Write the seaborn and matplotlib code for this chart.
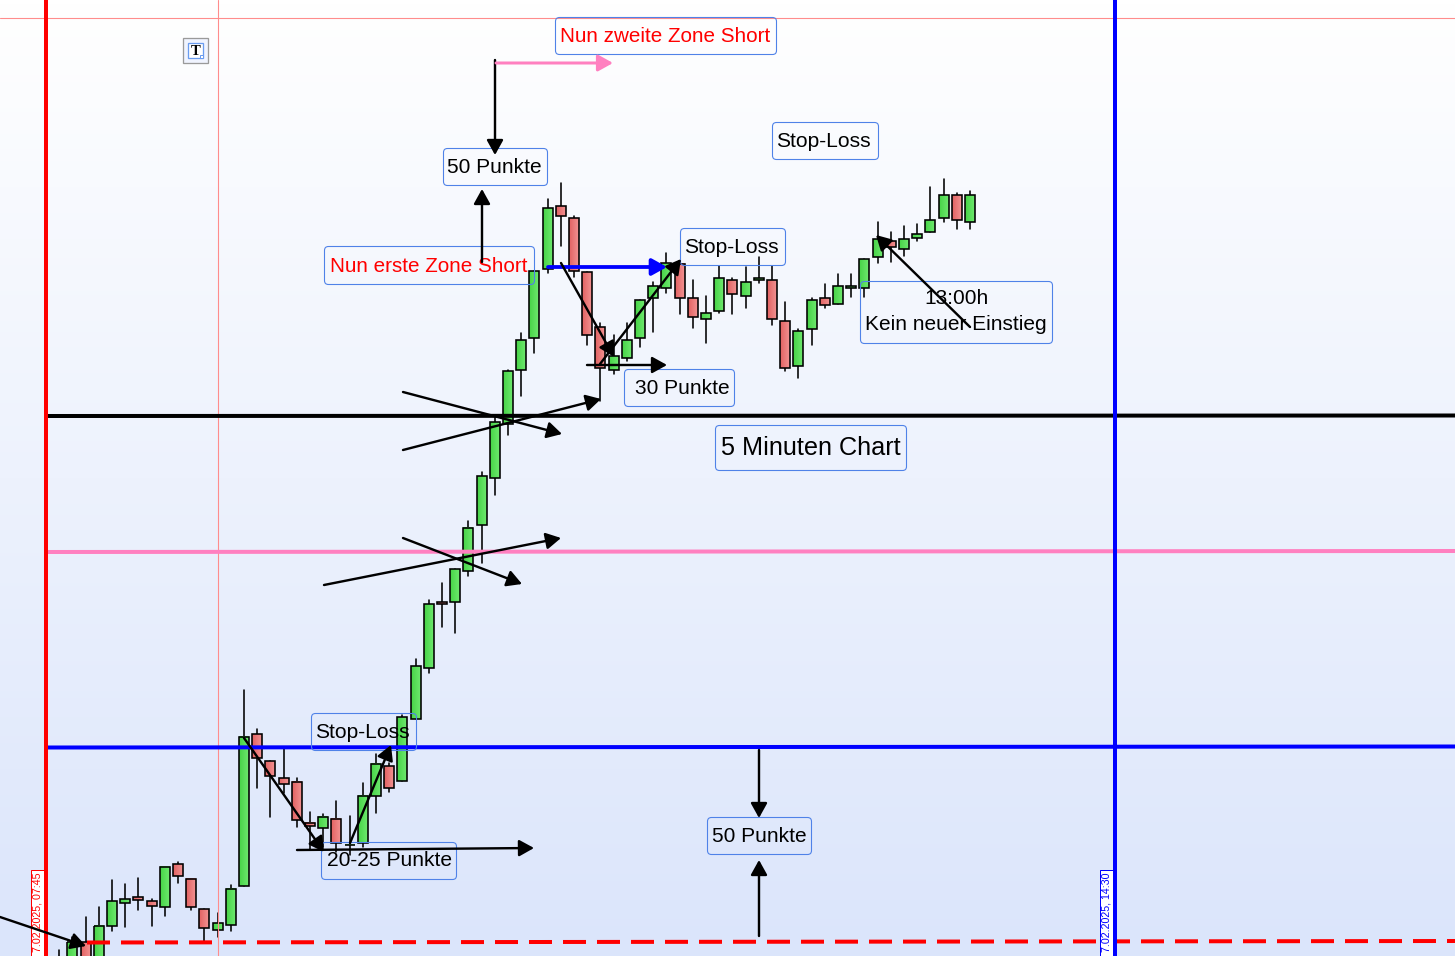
import numpy as np
import pandas as pd
import matplotlib
matplotlib.use("Agg")
import matplotlib.pyplot as plt
from matplotlib.colors import LinearSegmentedColormap
from matplotlib.patches import FancyBboxPatch, Rectangle
import seaborn as sns

# --- candle values (chart height units, larger = lower on screen)
body_top = [958, 942.3, 942.3, 925.7, 901.3, 899.3, 897.3, 901.3, 866.7, 864.3, 878.7, 909.3, 923.3, 888.7,
            736.7, 734.3, 760.7, 777.7, 781.7, 822.7, 816.7, 818.7, 844.6, 795.7, 763.7, 765.7, 717.3, 666.3,
            604.3, 602.3, 569.3, 527.7, 476.3, 422.3, 371.3, 340.3, 271.3, 208.3, 206.3, 218.3, 272.3, 327.3,
            356.3, 340.3, 300.3, 286.3, 263.3, 264, 298.3, 313.3, 278.3, 280.3, 282.3, 278.3, 280.3, 321.3,
            331.3, 300.3, 298.3, 286.3, 286.3, 259.3, 239.3, 241.3, 239.3, 234.3, 220.3, 195.3, 195.3, 195.3]
body_bot = [975, 970, 970, 970, 926, 903.3, 899.7, 905.7, 907.3, 876.3, 907.3, 928.3, 930.3, 925.3,
            886.3, 758.3, 775.7, 783.7, 820.3, 826.3, 828.3, 843.3, 845.4, 843.3, 796.3, 787.7, 781.3, 719.3,
            668.3, 604.3, 602.3, 571.3, 525.3, 478.3, 424, 370.3, 338.3, 269.3, 216.3, 271.3, 335.3, 368.3,
            370.3, 358.3, 338.3, 298.3, 288.3, 298.3, 317.3, 319.3, 311.3, 294.3, 296.3, 280.3, 319.3, 368.3,
            366.3, 329.3, 305.3, 304.3, 288.3, 288.3, 257.3, 247.3, 249.3, 238.3, 232.3, 218.3, 220.3, 222.3]
wick_top = [950, 936.7, 917.3, 907.3, 880.3, 884.3, 878.3, 899.3, 866.7, 862.3, 878.7, 909.3, 913.3, 884.7,
            690, 729.3, 760.7, 748.3, 777.7, 812.3, 814.3, 800.7, 816, 783.3, 754, 763, 715, 659,
            600, 583.3, 569.3, 521.3, 472.3, 417, 370, 333.3, 271.3, 199.3, 183.3, 216.3, 272.3, 323.3,
            335, 323.3, 300.3, 282.3, 253.3, 264, 280, 296, 266, 278.3, 267.3, 257.3, 266, 302.3,
            329.3, 298.3, 284, 274, 274, 259.3, 222.3, 232.3, 226, 224.3, 187.3, 179.3, 193.3, 191.3]
wick_bot = [975, 970, 970, 970, 930.7, 926.7, 909.7, 925.7, 915.7, 882.7, 909.7, 940.7, 936.7, 930.7,
            886.3, 787.7, 816.7, 793, 826.7, 850, 846.7, 851.7, 855, 846.7, 812.7, 791.7, 781.3, 719.3,
            672.7, 626.7, 633.3, 575.7, 562.7, 494.7, 434.7, 396, 352.7, 272.7, 246, 276.7, 345, 401,
            374.3, 361, 346.7, 331.7, 292.7, 314, 327.7, 342.7, 313.3, 314, 307.7, 282.7, 325.3, 370.7,
            377.7, 344.7, 307.7, 304.3, 296.7, 296.7, 263.3, 261.7, 255.7, 241.3, 232.3, 222.3, 228.7, 228.7]
bar_kind = ["G", "G", "R", "G", "G", "G", "R", "R", "G", "R", "R", "R", "G", "G",
            "G", "R", "R", "R", "R", "R", "G", "R", "G", "G", "G", "R", "G", "G",
            "G", "R", "G", "G", "G", "G", "G", "G", "G", "G", "R", "R", "R", "R",
            "G", "G", "G", "G", "G", "R", "R", "G", "G", "R", "G", "G", "R", "R",
            "G", "G", "R", "G", "G", "G", "G", "R", "G", "G", "G", "G", "R", "G"]
bar_index = np.arange(len(body_top))

# --- horizontal levels (name, x from/to, y from/to in picture units)
level_names = ["black", "pink", "blue", "stop"]
level_x0 = [46, 46, 46, 87]
level_x1 = [1455, 1455, 1455, 1455]
level_y0 = [416, 552, 747.5, 942.5]
level_y1 = [415.5, 551, 746.5, 941]
level_colors = ["#000000", "#ff80c0", "#0000ff", "#ff0000"]

# --- annotation boxes
box_labels = ["Nun zweite Zone Short", "50 Punkte", "Stop-Loss", "Nun erste Zone Short", "Stop-Loss",
              "13:00h\nKein neuer Einstieg", "30 Punkte", "5 Minuten Chart", "Stop-Loss", "20-25 Punkte", "50 Punkte"]
box_x0 = [555, 443, 772, 324, 680, 860, 624, 715, 311, 321, 707]
box_x1 = [776, 547, 878, 534, 785, 1052, 734, 906, 416, 456, 811]
box_y0 = [17, 148, 122, 246, 228, 281, 369, 425, 713, 842, 817]
box_y1 = [54, 185, 159, 284, 265, 343, 406, 470, 750, 879, 854]
label_dx = [0, -1, -1.5, 0, -1.5, 0, 3, 0, -1.5, 1, 0]
label_dy = [0.5, 0, 0, 1, 0, -1, 0, 0, 0, 0, 0]
box_colors = ["#ff0000", "#000000", "#000000", "#ff0000", "#000000", "#000000", "#000000", "#000000", "#000000",
              "#000000", "#000000"]
box_sizes = [14.9, 15.0, 15.1, 14.9, 15.1, 15.0, 15.0, 18.2, 15.1, 15.1, 15.0]

# --- arrows
arrow_from = [(0, 917), (244, 738), (297, 850), (350, 843), (759, 750), (759, 936), (324, 585), (403, 538),
              (403, 450), (403, 392), (495, 60), (482, 262), (496, 63), (548, 267), (561, 263), (600, 364),
              (587, 365), (970, 327)]
arrow_to = [(86, 946), (324, 852), (534, 848), (391, 745), (759, 818), (759, 860), (561, 538), (522, 584),
            (601, 399), (562, 434), (495, 155), (482, 189), (613, 63), (667, 267), (614, 357), (681, 259),
            (667, 365), (876, 235)]
arrow_colors = ["#000000"] * 12 + ["#ff80c0", "#0000ff"] + ["#000000"] * 4
arrow_widths = [2.4] * 12 + [3.0, 3.8] + [2.4] * 4

date_labels = ["7.02.2025, 07:45", "7.02.2025, 14:30"]
date_colors = ["#ff0000", "#0000ff"]
date_x0 = [30.5, 1099.5]

sns.set_theme(style="white")
plt.rcParams["font.family"] = ["Liberation Sans", "DejaVu Sans"]
plt.rcParams["lines.scale_dashes"] = False

W, H = 1455, 956
PX = 72 / 100  # one pixel in points
fig = plt.figure(figsize=(W / 100, H / 100), dpi=100)

# background gradient
bg = fig.add_axes([0, 0, 1, 1], zorder=0)
bg.set_axis_off()
bg.imshow(np.linspace(0, 1, 256).reshape(-1, 1), aspect="auto", extent=(0, 1, 0, 1),
          cmap=LinearSegmentedColormap.from_list("bg", ["#ffffff", "#dbe5fb"]))

# candle axes: x is bar number, y in picture units
ax = fig.add_axes([0, 0, 1, 1], zorder=1)
ax.patch.set_alpha(0)
ax.set_axis_off()
x_origin, x_step = 59.3, 13.2
ax.set_xlim(-x_origin / x_step, (W - x_origin) / x_step)
ax.set_ylim(H, 0)

wicks = pd.DataFrame({
    "bar": np.repeat(bar_index, 2),
    "y": np.column_stack([wick_top, wick_bot]).ravel(),
})
sns.lineplot(data=wicks, x="bar", y="y", units="bar", estimator=None, sort=False, color="#000000",
             linewidth=1.6 * PX, legend=False, ax=ax, zorder=2)

green = LinearSegmentedColormap.from_list("g", ["#47d447", "#6ee86e"])
red = LinearSegmentedColormap.from_list("r", ["#e26262", "#f29292"])
ramp = np.linspace(0, 1, 16).reshape(1, -1)
half = 5.0 / x_step
for i, top, bot, kind in zip(bar_index, body_top, body_bot, bar_kind):
    ax.imshow(ramp, aspect="auto", extent=(i - half, i + half, bot, top),
              cmap=green if kind == "G" else red, zorder=3)
    ax.add_patch(Rectangle((i - half, top), 2 * half, bot - top, fill=False, ec="#000000",
                           lw=1.6 * PX, zorder=4))
ax.set_xlim(-x_origin / x_step, (W - x_origin) / x_step)
ax.set_ylim(H, 0)

# overlay axes in picture units
ov = fig.add_axes([0, 0, 1, 1], zorder=2)
ov.patch.set_alpha(0)
ov.set_axis_off()
ov.set_xlim(0, W)
ov.set_ylim(H, 0)

# thin crosshair
ov.axhline(18.2, color="#ff8c8c", lw=1.1 * PX, zorder=1)
ov.axvline(218.2, color="#ff8c8c", lw=1.1 * PX, zorder=1)

levels = pd.DataFrame({
    "name": np.repeat(level_names, 2),
    "x": np.column_stack([level_x0, level_x1]).ravel(),
    "y": np.column_stack([level_y0, level_y1]).ravel(),
})
palette = dict(zip(level_names, level_colors))
solid = levels[levels["name"] != "stop"]
sns.lineplot(data=solid, x="x", y="y", hue="name", palette=palette, units="name", estimator=None, sort=False,
             linewidth=4 * PX, legend=False, ax=ov, zorder=2)
sns.lineplot(data=levels[levels["name"] == "stop"], x="x", y="y", color=palette["stop"], estimator=None,
             sort=False, linewidth=4 * PX, linestyle=(0, (23 * PX, 11 * PX)), dash_capstyle="butt",
             legend=False, ax=ov, zorder=2)
ov.set_xlim(0, W)
ov.set_ylim(H, 0)
ov.set_axis_off()

# date flags
for label, col, x0 in zip(date_labels, date_colors, date_x0):
    ov.add_patch(Rectangle((x0, 869.5), 13.5, 100, fc="white", ec=col, lw=1 * PX, zorder=3))
    ov.text(x0 + 7, 873, label, color=col, rotation=90, ha="center", va="top", fontsize=7.7, zorder=4)

# main vertical lines
ov.axvline(45.5, color="#ff0000", lw=4 * PX, zorder=5)
ov.axvline(1114.5, color="#0000ff", lw=4 * PX, zorder=5)

# text boxes
for label, x0, x1, y0, y1, col, fs, dx, dy in zip(box_labels, box_x0, box_x1, box_y0, box_y1, box_colors,
                                                  box_sizes, label_dx, label_dy):
    ov.add_patch(FancyBboxPatch((x0 + 0.5, y0 + 0.5), x1 - x0, y1 - y0,
                                boxstyle="round,pad=0,rounding_size=4", fc="none", ec="#4f82e8",
                                lw=1.1 * PX, zorder=6))
    ov.text((x0 + x1) / 2 + dx, (y0 + y1) / 2 + 0.5 + dy, label, color=col, fontsize=fs, ha="center",
            va="center", linespacing=1.4, zorder=7)

# arrows
for start, end, col, lw in zip(arrow_from, arrow_to, arrow_colors, arrow_widths):
    ov.annotate("", xy=end, xytext=start, zorder=8, annotation_clip=False,
                arrowprops=dict(arrowstyle="-|>,head_length=9.0,head_width=5.0", mutation_scale=1,
                                color=col, lw=lw * PX, shrinkA=0, shrinkB=0))

# text tool icon
ov.add_patch(Rectangle((183, 38), 25, 25, fc="#f0f4ff", ec="#9a9a9a", lw=1.3 * PX, zorder=3))
ov.add_patch(Rectangle((188, 43), 15, 15, fc="white", ec="#6a9cf0", lw=1.3 * PX, zorder=4))
ov.text(195.5, 51, "T", family="Liberation Serif", fontweight="bold", fontsize=10.5, ha="center",
        va="center", color="#000000", zorder=5)
ov.add_patch(Rectangle((200, 55), 3, 3, fc="white", ec="#6a9cf0", lw=1 * PX, zorder=5))

fig.savefig("out.png", dpi=100)
